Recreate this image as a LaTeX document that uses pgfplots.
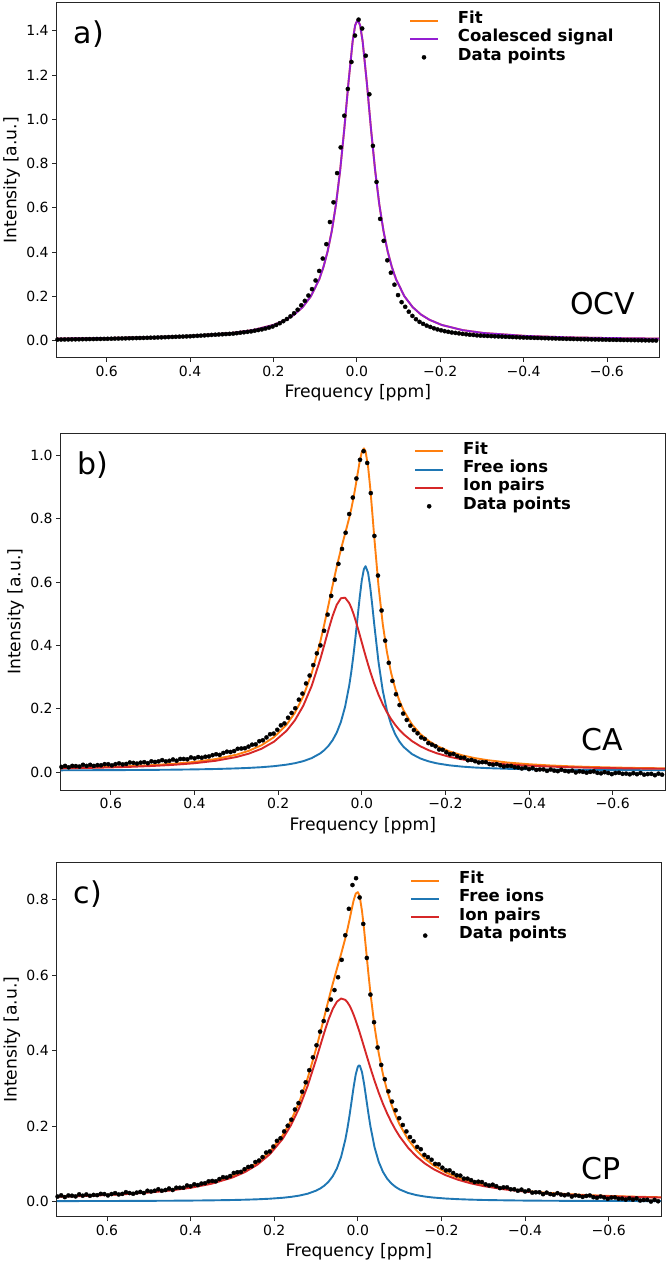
\documentclass[border=0pt]{standalone}
\usepackage{fontspec}
\setmainfont{DejaVu Sans}
\usepackage{pgfplots}
\pgfplotsset{compat=1.18}
\usepackage{pgfplotstable}
\definecolor{mplorange}{HTML}{FF7F0E}
\definecolor{mplblue}{HTML}{1F77B4}
\definecolor{mplred}{HTML}{D62728}
\definecolor{mplpurple}{RGB}{148,30,210}

\pgfplotstableread{
x fit
0.72 0.0095
0.60 0.0119
0.50 0.0153
0.40 0.0215
0.30 0.0347
0.25 0.0477
0.20 0.0709
0.17 0.0947
0.15 0.1181
0.13 0.1515
0.11 0.2011
0.09 0.2781
0.08 0.3329
0.07 0.4036
0.06 0.4956
0.05 0.6152
0.04 0.7687
0.03 0.9571
0.02 1.1659
0.01 1.3519
0.004 1.4241
-0.002 1.4500
-0.008 1.4241
-0.014 1.3519
-0.024 1.1659
-0.034 0.9571
-0.044 0.7687
-0.054 0.6152
-0.064 0.4956
-0.074 0.4036
-0.084 0.3329
-0.094 0.2781
-0.114 0.2011
-0.134 0.1515
-0.154 0.1181
-0.174 0.0947
-0.204 0.0709
-0.254 0.0477
-0.304 0.0347
-0.404 0.0215
-0.504 0.0153
-0.604 0.0119
-0.725 0.0095
}\curveA

\pgfplotstableread{
x y
0.0043 1.378
0.0129 1.259
0.0215 1.137
0.0301 1.016
0.0387 0.873
0.0473 0.757
0.0559 0.625
0.0645 0.536
0.0731 0.436
0.0817 0.371
0.0903 0.315
0.0989 0.272
0.1075 0.233
0.1161 0.204
0.1247 0.180
0.1333 0.160
0.1419 0.140
0.1505 0.124
0.1591 0.110
0.1677 0.098
0.1763 0.088
0.1849 0.079
0.1935 0.071
0.2021 0.064
0.2107 0.059
0.2193 0.055
0.2279 0.051
0.2365 0.048
0.2451 0.045
0.2537 0.042
0.2623 0.040
0.2709 0.038
0.2795 0.036
0.2881 0.034
0.2967 0.032
0.3053 0.031
0.3139 0.030
0.3225 0.029
0.3311 0.028
0.3397 0.027
0.3483 0.026
0.3569 0.025
0.3655 0.024
0.3741 0.023
0.3827 0.022
0.3913 0.021
0.3999 0.020
0.4085 0.0194
0.4171 0.0188
0.4257 0.0182
0.4343 0.0176
0.4429 0.0170
0.4515 0.0164
0.4601 0.0158
0.4687 0.0152
0.4773 0.0146
0.4859 0.0140
0.4945 0.0135
0.5031 0.0130
0.5117 0.0126
0.5203 0.0122
0.5289 0.0118
0.5375 0.0114
0.5461 0.0110
0.5547 0.0106
0.5633 0.0102
0.5719 0.0098
0.5805 0.0094
0.5891 0.0090
0.5977 0.0086
0.6063 0.0082
0.6149 0.0080
0.6235 0.0078
0.6321 0.0075
0.6407 0.0073
0.6493 0.0070
0.6579 0.0068
0.6665 0.0065
0.6751 0.0063
0.6837 0.0060
0.6923 0.0058
0.7009 0.0055
0.7095 0.0053
0.7181 0.0050
-0.0043 1.450
-0.0129 1.410
-0.0215 1.287
-0.0301 1.113
-0.0387 0.880
-0.0473 0.717
-0.0559 0.550
-0.0645 0.451
-0.0731 0.363
-0.0817 0.307
-0.0903 0.253
-0.0989 0.206
-0.1075 0.174
-0.1161 0.153
-0.1247 0.131
-0.1333 0.112
-0.1419 0.097
-0.1505 0.085
-0.1591 0.076
-0.1677 0.068
-0.1763 0.062
-0.1849 0.056
-0.1935 0.051
-0.2021 0.047
-0.2107 0.043
-0.2193 0.040
-0.2279 0.037
-0.2365 0.035
-0.2451 0.033
-0.2537 0.031
-0.2623 0.029
-0.2709 0.027
-0.2795 0.026
-0.2881 0.024
-0.2967 0.023
-0.3053 0.022
-0.3139 0.0213
-0.3225 0.0206
-0.3311 0.0199
-0.3397 0.0192
-0.3483 0.0185
-0.3569 0.0178
-0.3655 0.0171
-0.3741 0.0164
-0.3827 0.0157
-0.3913 0.0150
-0.3999 0.0143
-0.4085 0.0138
-0.4171 0.0133
-0.4257 0.0128
-0.4343 0.0123
-0.4429 0.0118
-0.4515 0.0113
-0.4601 0.0108
-0.4687 0.0103
-0.4773 0.0098
-0.4859 0.0093
-0.4945 0.0088
-0.5031 0.0083
-0.5117 0.0080
-0.5203 0.0076
-0.5289 0.0073
-0.5375 0.0069
-0.5461 0.0066
-0.5547 0.0062
-0.5633 0.0059
-0.5719 0.0055
-0.5805 0.0052
-0.5891 0.0048
-0.5977 0.0045
-0.6063 0.0041
-0.6149 0.0039
-0.6235 0.0036
-0.6321 0.0034
-0.6407 0.0031
-0.6493 0.0029
-0.6579 0.0026
-0.6665 0.0024
-0.6751 0.0021
-0.6837 0.0019
-0.6923 0.0016
-0.7009 0.0014
-0.7095 0.0011
-0.7181 0.0009
}\dataA

\pgfplotstableread{
x blue red fit
0.72 0.0063 0.0125 0.0138
0.65 0.0066 0.0140 0.0156
0.60 0.0069 0.0155 0.0174
0.55 0.0072 0.0174 0.0196
0.50 0.0077 0.0200 0.0227
0.45 0.0083 0.0236 0.0269
0.40 0.0092 0.0286 0.0328
0.35 0.0104 0.0362 0.0416
0.30 0.0123 0.0481 0.0554
0.27 0.0139 0.0589 0.0678
0.24 0.0161 0.0741 0.0852
0.21 0.0193 0.0965 0.1108
0.18 0.0241 0.1307 0.1498
0.16 0.0287 0.1639 0.1876
0.14 0.0351 0.2095 0.2396
0.12 0.0446 0.2717 0.3113
0.10 0.0591 0.3532 0.4073
0.09 0.0695 0.3998 0.4643
0.08 0.0829 0.4475 0.5254
0.07 0.1008 0.4920 0.5878
0.06 0.1250 0.5276 0.6476
0.05 0.1586 0.5485 0.7021
0.04 0.2062 0.5504 0.7516
0.03 0.2740 0.5332 0.8022
0.025 0.3177 0.5182 0.8309
0.02 0.3687 0.5001 0.8638
0.015 0.4266 0.4793 0.9009
0.01 0.4891 0.4568 0.9409
0.005 0.5513 0.4333 0.9796
0.0 0.6050 0.4094 1.0094
-0.005 0.6403 0.3856 1.0209
-0.009 0.6496 0.3669 1.0115
-0.015 0.6290 0.3398 0.9638
-0.02 0.5852 0.3184 0.8986
-0.025 0.5269 0.2981 0.8200
-0.03 0.4638 0.2790 0.7378
-0.04 0.3474 0.2446 0.5870
-0.05 0.2584 0.2149 0.4683
-0.06 0.1952 0.1895 0.3797
-0.07 0.1510 0.1679 0.3139
-0.08 0.1195 0.1494 0.2639
-0.09 0.0968 0.1336 0.2254
-0.10 0.0799 0.1201 0.1950
-0.12 0.0574 0.0984 0.1508
-0.14 0.0435 0.0820 0.1205
-0.16 0.0344 0.0695 0.0989
-0.18 0.0281 0.0597 0.0828
-0.21 0.0219 0.0487 0.0656
-0.24 0.0179 0.0407 0.0536
-0.27 0.0151 0.0347 0.0448
-0.30 0.0132 0.0302 0.0384
-0.35 0.0110 0.0246 0.0306
-0.40 0.0096 0.0208 0.0254
-0.45 0.0086 0.0180 0.0216
-0.50 0.0079 0.0159 0.0188
-0.55 0.0074 0.0143 0.0167
-0.60 0.0070 0.0131 0.0151
-0.65 0.0067 0.0121 0.0138
-0.725 0.0064 0.0111 0.0125
}\curveB

\pgfplotstableread{
x y
0.0043 0.985
0.0129 0.926
0.0215 0.866
0.0301 0.814
0.0387 0.755
0.0473 0.704
0.0559 0.657
0.0645 0.607
0.0731 0.556
0.0817 0.497
0.0903 0.446
0.0989 0.400
0.1075 0.375
0.1161 0.338
0.1247 0.305
0.1333 0.280
0.1419 0.248
0.1505 0.229
0.1591 0.202
0.1677 0.187
0.1763 0.172
0.1849 0.154
0.1935 0.148
0.2021 0.134
0.2107 0.122
0.2193 0.120
0.2279 0.110
0.2365 0.101
0.2451 0.098
0.2537 0.088
0.2623 0.087
0.2709 0.081
0.2795 0.076
0.2881 0.075
0.2967 0.074
0.3053 0.067
0.3139 0.064
0.3225 0.065
0.3311 0.061
0.3397 0.055
0.3483 0.057
0.3569 0.054
0.3655 0.050
0.3741 0.049
0.3827 0.046
0.3913 0.048
0.3999 0.044
0.4085 0.047
0.4171 0.041
0.4257 0.042
0.4343 0.042
0.4429 0.0365
0.4515 0.0404
0.4601 0.0363
0.4687 0.0344
0.4773 0.0384
0.4859 0.0345
0.4945 0.0326
0.5031 0.0346
0.5117 0.0289
0.5203 0.0320
0.5289 0.0303
0.5375 0.0275
0.5461 0.0297
0.5547 0.0310
0.5633 0.0264
0.5719 0.0248
0.5805 0.0282
0.5891 0.0256
0.5977 0.0219
0.6063 0.0254
0.6149 0.0257
0.6235 0.0222
0.6321 0.0226
0.6407 0.0201
0.6493 0.0236
0.6579 0.0201
0.6665 0.0237
0.6751 0.0182
0.6837 0.0197
0.6923 0.0202
0.7009 0.0158
0.7095 0.0202
0.7181 0.0168
-0.0043 1.012
-0.0129 0.975
-0.0215 0.880
-0.0301 0.745
-0.0387 0.620
-0.0473 0.510
-0.0559 0.415
-0.0645 0.345
-0.0731 0.288
-0.0817 0.246
-0.0903 0.212
-0.0989 0.185
-0.1075 0.165
-0.1161 0.147
-0.1247 0.133
-0.1333 0.123
-0.1419 0.110
-0.1505 0.105
-0.1591 0.092
-0.1677 0.087
-0.1763 0.082
-0.1849 0.072
-0.1935 0.071
-0.2021 0.063
-0.2107 0.057
-0.2193 0.058
-0.2279 0.051
-0.2365 0.046
-0.2451 0.046
-0.2537 0.038
-0.2623 0.039
-0.2709 0.035
-0.2795 0.031
-0.2881 0.032
-0.2967 0.032
-0.3053 0.026
-0.3139 0.024
-0.3225 0.026
-0.3311 0.022
-0.3397 0.018
-0.3483 0.020
-0.3569 0.020
-0.3655 0.016
-0.3741 0.015
-0.3827 0.012
-0.3913 0.015
-0.3999 0.010
-0.4085 0.0133
-0.4171 0.0076
-0.4257 0.0089
-0.4343 0.0092
-0.4429 0.0045
-0.4515 0.0088
-0.4601 0.0052
-0.4687 0.0036
-0.4773 0.0080
-0.4859 0.0044
-0.4945 0.0028
-0.5031 0.0052
-0.5117 -0.0004
-0.5203 0.0030
-0.5289 0.0014
-0.5375 -0.0012
-0.5461 0.0013
-0.5547 0.0028
-0.5633 -0.0017
-0.5719 -0.0032
-0.5805 0.0003
-0.5891 -0.0022
-0.5977 -0.0057
-0.6063 -0.0022
-0.6149 -0.0015
-0.6235 -0.0048
-0.6321 -0.0041
-0.6407 -0.0064
-0.6493 -0.0027
-0.6579 -0.0060
-0.6665 -0.0023
-0.6751 -0.0075
-0.6837 -0.0057
-0.6923 -0.0049
-0.7009 -0.0091
-0.7095 -0.0043
-0.7181 -0.0075
}\dataB

\pgfplotstableread{
x blue red fit
0.72 0.0016 0.0130 0.0136
0.65 0.0018 0.0153 0.0161
0.60 0.0019 0.0176 0.0185
0.55 0.0021 0.0204 0.0215
0.50 0.0023 0.0243 0.0256
0.45 0.0026 0.0295 0.0311
0.40 0.0030 0.0368 0.0388
0.35 0.0036 0.0475 0.0501
0.30 0.0045 0.0640 0.0675
0.27 0.0053 0.0784 0.0827
0.24 0.0064 0.0982 0.1036
0.21 0.0080 0.1260 0.1330
0.18 0.0104 0.1660 0.1754
0.16 0.0128 0.2023 0.2141
0.14 0.0162 0.2487 0.2639
0.12 0.0212 0.3068 0.3270
0.10 0.0292 0.3758 0.4040
0.09 0.0349 0.4126 0.4465
0.08 0.0426 0.4489 0.4905
0.07 0.0530 0.4824 0.5344
0.06 0.0675 0.5102 0.5767
0.05 0.0884 0.5294 0.6168
0.04 0.1189 0.5377 0.6556
0.03 0.1639 0.5341 0.6970
0.025 0.1934 0.5279 0.7203
0.02 0.2277 0.5191 0.7458
0.015 0.2657 0.5078 0.7725
0.01 0.3041 0.4944 0.7975
0.005 0.3371 0.4793 0.8154
0.0 0.3574 0.4628 0.8192
-0.003 0.3610 0.4525 0.8125
-0.005 0.3594 0.4454 0.8038
-0.01 0.3424 0.4273 0.7687
-0.015 0.3113 0.4089 0.7192
-0.02 0.2735 0.3905 0.6630
-0.025 0.2351 0.3722 0.6063
-0.03 0.1999 0.3542 0.5531
-0.04 0.1438 0.3198 0.4626
-0.05 0.1052 0.2881 0.3923
-0.06 0.0791 0.2593 0.3374
-0.07 0.0611 0.2336 0.2937
-0.08 0.0484 0.2107 0.2581
-0.09 0.0393 0.1904 0.2287
-0.10 0.0324 0.1726 0.2040
-0.12 0.0232 0.1429 0.1651
-0.14 0.0175 0.1197 0.1362
-0.16 0.0137 0.1014 0.1141
-0.18 0.0111 0.0869 0.0970
-0.21 0.0084 0.0702 0.0776
-0.24 0.0067 0.0579 0.0636
-0.27 0.0055 0.0486 0.0531
-0.30 0.0046 0.0414 0.0450
-0.35 0.0037 0.0327 0.0354
-0.40 0.0030 0.0266 0.0286
-0.45 0.0026 0.0221 0.0237
-0.50 0.0023 0.0189 0.0202
-0.55 0.0021 0.0163 0.0174
-0.60 0.0019 0.0144 0.0153
-0.65 0.0018 0.0128 0.0136
-0.725 0.0016 0.0111 0.0117
}\curveC

\pgfplotstableread{
x y
0.0043 0.856
0.0129 0.838
0.0215 0.775
0.0301 0.705
0.0387 0.640
0.0473 0.594
0.0559 0.560
0.0645 0.535
0.0731 0.508
0.0817 0.478
0.0903 0.450
0.0989 0.414
0.1075 0.382
0.1161 0.348
0.1247 0.316
0.1333 0.291
0.1419 0.261
0.1505 0.244
0.1591 0.217
0.1677 0.201
0.1763 0.186
0.1849 0.168
0.1935 0.161
0.2021 0.146
0.2107 0.133
0.2193 0.130
0.2279 0.118
0.2365 0.109
0.2451 0.105
0.2537 0.094
0.2623 0.092
0.2709 0.086
0.2795 0.079
0.2881 0.078
0.2967 0.076
0.3053 0.068
0.3139 0.064
0.3225 0.065
0.3311 0.060
0.3397 0.054
0.3483 0.055
0.3569 0.054
0.3655 0.049
0.3741 0.048
0.3827 0.044
0.3913 0.046
0.3999 0.041
0.4085 0.043
0.4171 0.037
0.4257 0.037
0.4343 0.037
0.4429 0.031
0.4515 0.035
0.4601 0.031
0.4687 0.029
0.4773 0.033
0.4859 0.029
0.4945 0.027
0.5031 0.029
0.5117 0.023
0.5203 0.026
0.5289 0.024
0.5375 0.021
0.5461 0.023
0.5547 0.0252
0.5633 0.0207
0.5719 0.0192
0.5805 0.0227
0.5891 0.0202
0.5977 0.0167
0.6063 0.0202
0.6149 0.0208
0.6235 0.0174
0.6321 0.0180
0.6407 0.0156
0.6493 0.0192
0.6579 0.0158
0.6665 0.0195
0.6751 0.0141
0.6837 0.0158
0.6923 0.0165
0.7009 0.0122
0.7095 0.0169
0.7181 0.0136
-0.0043 0.805
-0.0129 0.735
-0.0215 0.645
-0.0301 0.548
-0.0387 0.475
-0.0473 0.408
-0.0559 0.362
-0.0645 0.324
-0.0731 0.292
-0.0817 0.265
-0.0903 0.242
-0.0989 0.221
-0.1075 0.203
-0.1161 0.186
-0.1247 0.171
-0.1333 0.160
-0.1419 0.145
-0.1505 0.139
-0.1591 0.124
-0.1677 0.118
-0.1763 0.111
-0.1849 0.100
-0.1935 0.099
-0.2021 0.090
-0.2107 0.083
-0.2193 0.083
-0.2279 0.076
-0.2365 0.070
-0.2451 0.069
-0.2537 0.061
-0.2623 0.061
-0.2709 0.057
-0.2795 0.052
-0.2881 0.053
-0.2967 0.052
-0.3053 0.046
-0.3139 0.043
-0.3225 0.045
-0.3311 0.041
-0.3397 0.036
-0.3483 0.038
-0.3569 0.038
-0.3655 0.033
-0.3741 0.033
-0.3827 0.029
-0.3913 0.032
-0.3999 0.027
-0.4085 0.030
-0.4171 0.024
-0.4257 0.025
-0.4343 0.025
-0.4429 0.020
-0.4515 0.024
-0.4601 0.0202
-0.4687 0.0184
-0.4773 0.0226
-0.4859 0.0188
-0.4945 0.0170
-0.5031 0.0192
-0.5117 0.0136
-0.5203 0.0170
-0.5289 0.0154
-0.5375 0.0128
-0.5461 0.0152
-0.5547 0.0166
-0.5633 0.0120
-0.5719 0.0104
-0.5805 0.0138
-0.5891 0.0112
-0.5977 0.0076
-0.6063 0.0110
-0.6149 0.0114
-0.6235 0.0078
-0.6321 0.0082
-0.6407 0.0056
-0.6493 0.0090
-0.6579 0.0054
-0.6665 0.0088
-0.6751 0.0032
-0.6837 0.0046
-0.6923 0.0050
-0.7009 0.0004
-0.7095 0.0048
-0.7181 0.0012
}\dataC

\pgfplotsset{
  panel/.style={
    scale only axis,
    xmin=-0.725, xmax=0.72, x dir=reverse,
    axis line style={black!85, line width=0.9pt},
    tick align=outside, tick pos=left,
    major tick length=4.5pt,
    tick style={black!85, line width=0.8pt},
    xtick={0.6,0.4,0.2,0,-0.2,-0.4,-0.6},
    xticklabels={0.6,0.4,0.2,0.0,−0.2,−0.4,−0.6},
    ticklabel style={font=\fontsize{14}{16}\selectfont},
    xlabel={Frequency [ppm]},
    ylabel={Intensity [a.u.]},
    every axis x label/.style={at={([yshift=-35.5pt]axis description cs:0.5,0)}, anchor=center, font=\fontsize{17.2}{20}\selectfont},
    every axis y label/.style={at={([xshift=-45pt]axis description cs:0,0.5)}, anchor=center, rotate=90, font=\fontsize{17.2}{20}\selectfont},
    legend cell align=left,
    legend image code/.code={\draw[mark repeat=2,mark phase=2,##1] plot coordinates {(0pt,0pt) (14pt,0pt) (28pt,0pt)};},
    legend style={draw=none, fill=none, at={(0.585,0.975)}, anchor=north west,
      inner sep=0pt, outer sep=0pt, row sep=0pt,
      font=\bfseries\fontsize{16.5}{18}\selectfont,
      nodes={inner sep=0pt, text height=12pt, text depth=6.3pt},
      /tikz/every odd column/.append style={column sep=19pt}},
  },
  fitline/.style={line width=1.9pt, line join=round},
  dots/.style={only marks, mark=*, mark size=2.1pt, black, mark options={fill=black, draw=black, line width=0.3pt}},
}

\begin{document}
\begin{tikzpicture}
\path[use as bounding box] (0pt,0pt) rectangle (666pt,-1264pt);

% ---------------- a) ----------------
\begin{axis}[panel, at={(56.7pt,-357.7pt)}, anchor=south west,
  width=602.3pt, height=355pt,
  ymin=-0.0768, ymax=1.5265,
  ytick={0,0.2,0.4,0.6,0.8,1.0,1.2,1.4},
  yticklabels={0.0,0.2,0.4,0.6,0.8,1.0,1.2,1.4}]
\addplot[mplorange, fitline] table[x=x, y=fit] {\curveA};
\addplot[mplpurple, fitline] table[x=x, y=fit] {\curveA};
\addplot[dots] table[x=x, y=y] {\dataA};
\legend{Fit, Coalesced signal, Data points}
\node[anchor=north west, inner sep=0pt, font=\fontsize{30}{30}\selectfont] at (axis description cs:0.028,0.95) {a)};
\node[anchor=base west, inner sep=0pt, font=\fontsize{30}{30}\selectfont] at (axis description cs:0.852,0.123) {OCV};
\end{axis}

% ---------------- b) ----------------
\begin{axis}[panel, at={(60.7pt,-790pt)}, anchor=south west,
  width=604.3pt, height=356.7pt,
  ymin=-0.0558, ymax=1.0684,
  ytick={0,0.2,0.4,0.6,0.8,1.0},
  yticklabels={0.0,0.2,0.4,0.6,0.8,1.0}]
\addplot[mplorange, fitline] table[x=x, y=fit] {\curveB};
\addplot[mplblue, fitline] table[x=x, y=blue] {\curveB};
\addplot[mplred, fitline] table[x=x, y=red] {\curveB};
\addplot[dots] table[x=x, y=y] {\dataB};
\legend{Fit, Free ions, Ion pairs, Data points}
\node[anchor=north west, inner sep=0pt, font=\fontsize{30}{30}\selectfont] at (axis description cs:0.028,0.95) {b)};
\node[anchor=base west, inner sep=0pt, font=\fontsize{30}{30}\selectfont] at (axis description cs:0.862,0.11) {CA};
\end{axis}

% ---------------- c) ----------------
\begin{axis}[panel, at={(56.8pt,-1216.7pt)}, anchor=south west,
  width=604.2pt, height=354pt,
  ymin=-0.0397, ymax=0.897,
  ytick={0,0.2,0.4,0.6,0.8},
  yticklabels={0.0,0.2,0.4,0.6,0.8}]
\addplot[mplorange, fitline] table[x=x, y=fit] {\curveC};
\addplot[mplblue, fitline] table[x=x, y=blue] {\curveC};
\addplot[mplred, fitline] table[x=x, y=red] {\curveC};
\addplot[dots] table[x=x, y=y] {\dataC};
\legend{Fit, Free ions, Ion pairs, Data points}
\node[anchor=north west, inner sep=0pt, font=\fontsize{30}{30}\selectfont] at (axis description cs:0.028,0.95) {c)};
\node[anchor=base west, inner sep=0pt, font=\fontsize{30}{30}\selectfont] at (axis description cs:0.868,0.105) {CP};
\end{axis}
\end{tikzpicture}
\end{document}
